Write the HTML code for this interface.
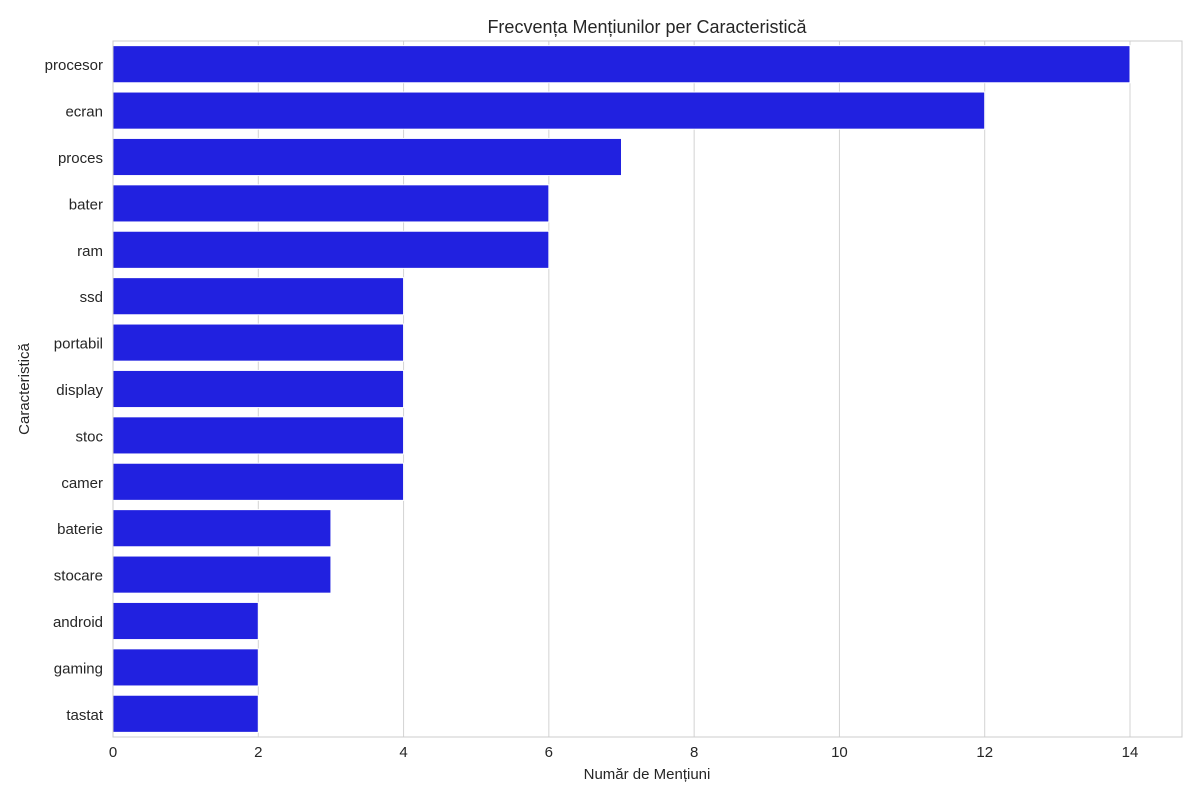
<!DOCTYPE html>
<html><head><meta charset="utf-8"><style>
body{margin:0;background:#fff;font-family:"Liberation Sans","DejaVu Sans",sans-serif;}
</style></head><body>
<svg id="chart" width="1200" height="800" xmlns="http://www.w3.org/2000/svg" font-family="Liberation Sans, DejaVu Sans, sans-serif">
<rect width="1200" height="800" fill="#fff"/>
<g id="grid"></g><g id="bars"></g><g id="ticks"></g>
<rect x="113" y="41" width="1069" height="696" fill="none" stroke="#cccccc" stroke-width="1"/>
<text x="647" y="33" text-anchor="middle" font-size="18" fill="#262626">Frecvența Mențiunilor per Caracteristică</text>
<text x="647" y="779" text-anchor="middle" font-size="15" fill="#262626">Număr de Mențiuni</text>
<text transform="translate(29,389) rotate(-90)" text-anchor="middle" font-size="15" fill="#262626">Caracteristică</text>
</svg>
<script>
const categories=["procesor","ecran","proces","bater","ram","ssd","portabil","display","stoc","camer","baterie","stocare","android","gaming","tastat"];
const values=[14,12,7,6,6,4,4,4,4,4,3,3,2,2,2];
const xTicks=[0,2,4,6,8,10,12,14];
const NS="http://www.w3.org/2000/svg";
const L=113,T=41,B=737,X0=113,X14=1130;
const xs=v=>X0+v*(X14-X0)/14;
const band=(B-T)/categories.length;
const ys=i=>T+i*band;
const grid=document.getElementById('grid'),bars=document.getElementById('bars'),ticks=document.getElementById('ticks');
function mk(tag,attrs,parent){const e=document.createElementNS(NS,tag);for(const k in attrs)e.setAttribute(k,attrs[k]);parent.appendChild(e);return e;}
xTicks.forEach(t=>{
 const g=mk('line',{x1:xs(t),x2:xs(t),y1:T,y2:B,stroke:'#d3d3d3','stroke-width':1},grid);
 
 
 const tx=mk('text',{x:xs(t),y:B+20,'text-anchor':'middle','font-size':15,fill:'#262626'},ticks);
 tx.textContent=t;
 
 
});
categories.forEach((c,i)=>{
 const h=band*0.8;
 const r=mk('rect',{x:xs(0),y:ys(i)+band*0.1,width:xs(values[i])-xs(0),height:h,fill:'#2121e0',stroke:'#ffffff','stroke-width':1},bars);
 
 
 const tx=mk('text',{x:L-10,y:ys(i)+band/2+6,'text-anchor':'end','font-size':15,fill:'#262626'},ticks);
 tx.textContent=c;
 
 
});
</script>
</body></html>
